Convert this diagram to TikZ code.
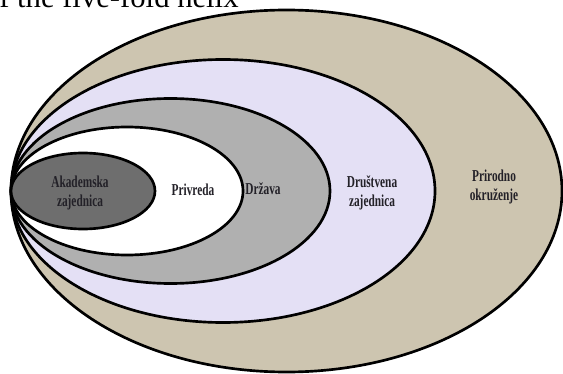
\documentclass[tikz,border=0pt]{standalone}
\usepackage{fontspec}
\setmainfont{Liberation Serif}
\usepackage{graphicx}

\definecolor{okruzenje}{RGB}{205,197,176}
\definecolor{drustvo}{RGB}{228,224,245}
\definecolor{drzava}{RGB}{176,176,176}
\definecolor{akademija}{RGB}{110,110,110}
\definecolor{tekst}{RGB}{35,33,40}

% narrow, centred label text
\newcommand{\lbl}[1]{\scalebox{0.68}[1]{\begin{tabular}{@{}c@{}}#1\end{tabular}}}

\tikzset{
  sfera/.style={draw=black, line width=2pt},
  natpis/.style={font=\bfseries\fontsize{12.5}{14}\selectfont, text=tekst, inner sep=0pt}
}

\begin{document}
\begin{tikzpicture}[x=0.75pt,y=-0.75pt]

\useasboundingbox (0,0) rectangle (563,374);
\clip (0,0) rectangle (563,374);

% Title, cut off at the top edge
\node[anchor=base west, inner sep=0pt, font=\fontsize{23}{23}\selectfont] (naslov) at (-1,7.5)
    {f the five-fold helix};

% Common left point of all ellipses
\coordinate (T) at (11,191);

% Ellipses, outermost first
\filldraw[sfera, fill=okruzenje] (T) ++(275.5,0) ellipse [x radius=275.5, y radius=181];
\filldraw[sfera, fill=drustvo]   (T) ++(212,0)   ellipse [x radius=212,   y radius=131.5];
\filldraw[sfera, fill=drzava]    (T) ++(159.5,0) ellipse [x radius=159.5, y radius=92.5];
\filldraw[sfera, fill=white]     (T) ++(116,0)   ellipse [x radius=116,   y radius=64];
\filldraw[sfera, fill=akademija] (T) ++(72,0)    ellipse [x radius=72,    y radius=38];

% Labels
\node[natpis] (akademska) at (80,193)  {\lbl{Akademska\\zajednica}};
\node[natpis] (privreda)  at (193,192) {\lbl{Privreda}};
\node[natpis] (drzava)    at (263,191) {\lbl{Država}};
\node[natpis] (drustvena) at (372,193) {\lbl{Društvena\\zajednica}};
\node[natpis] (prirodno)  at (494,187) {\lbl{Prirodno\\okruženje}};

\end{tikzpicture}
\end{document}
